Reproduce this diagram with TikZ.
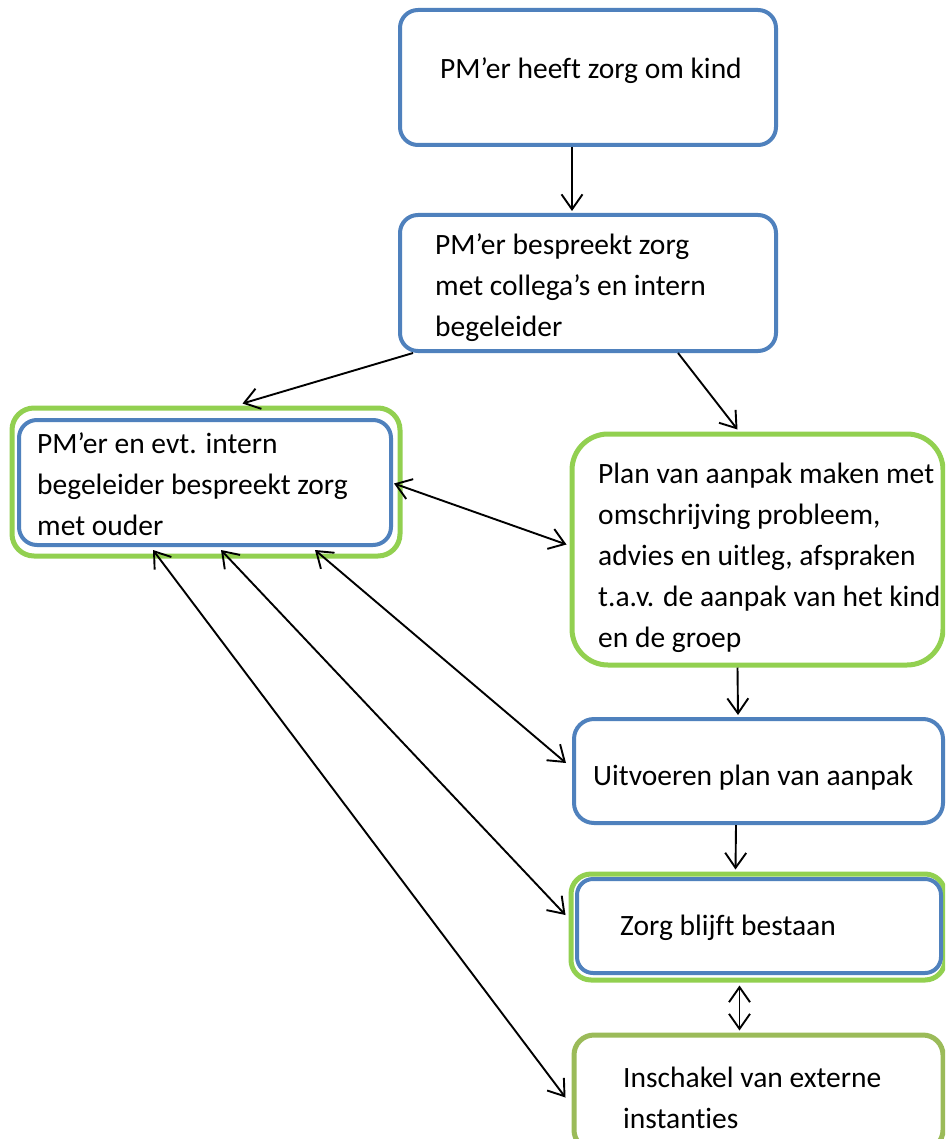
\documentclass[tikz,border=0pt]{standalone}
\usepackage{fontspec}
\setmainfont{Carlito}[Ligatures={NoCommon}]
\usetikzlibrary{arrows.meta}
\definecolor{boxblue}{HTML}{4F81BD}
\definecolor{boxgreen}{HTML}{92D050}
\definecolor{boxolive}{HTML}{9BBB59}
\tikzset{
  box/.style={draw, fill=white, inner sep=0pt, rounded corners=18pt},
  bluebox/.style={box, draw=boxblue, line width=4pt},
  greenbox/.style={box, draw=boxgreen, line width=5pt},
  olivebox/.style={box, draw=boxolive, line width=5pt},
  label text/.style={anchor=base west, inner sep=0pt, align=left,
    font=\fontsize{29.5}{40.8}\selectfont},
  conn/.style={draw=black, line width=1.9pt, -{Straight Barb[length=15pt,width=21pt]}},
  biconn/.style={draw=black, line width=1.9pt, {Straight Barb[length=15pt,width=21pt]}-{Straight Barb[length=15pt,width=21pt]}},
}
\begin{document}
\begin{tikzpicture}[x=1pt, y=-1pt]
\useasboundingbox (0,0) rectangle (945,1139);
\clip (0,0) rectangle (945,1139);
\fill[white] (0,0) rectangle (945,1139);
% boxes
\node[bluebox, minimum width=376pt, minimum height=135pt] (b1) at (588,77.5) {};
\node[bluebox, minimum width=376pt, minimum height=136pt] (b2) at (588,283) {};
\node[greenbox, minimum width=388pt, minimum height=148pt, rounded corners=22pt] (b3o) at (206,482) {};
\node[bluebox, minimum width=372pt, minimum height=125pt] (b3i) at (205,482.5) {};
\node[greenbox, minimum width=371pt, minimum height=231pt, rounded corners=36pt] (b4) at (757.5,549.5) {};
\node[bluebox, minimum width=369pt, minimum height=104pt, rounded corners=20pt] (b5) at (758.5,771) {};
\node[greenbox, minimum width=374pt, minimum height=106pt, rounded corners=20pt] (b6o) at (758,927) {};
\node[bluebox, minimum width=364pt, minimum height=94pt, rounded corners=16pt] (b6i) at (759,926) {};
\node[olivebox, minimum width=369pt, minimum height=115pt, rounded corners=20pt] (b7) at (758.5,1092.5) {};
% texts (base = baseline of the last line)
\node[label text] (t1) at (440,79) {PM’er heeft zorg om kind};
\node[label text] (t2) at (435,336) {PM’er bespreekt zorg\\met collega’s en intern\\begeleider};
\node[label text] (t3) at (37,535) {PM’er en evt. intern\\begeleider bespreekt zorg\\met ouder};
\node[label text] (t4) at (598,647) {Plan van aanpak maken met\\omschrijving probleem,\\advies en uitleg, afspraken\\t.a.v. de aanpak van het kind\\en de groep};
\node[label text] (t5) at (593,785) {Uitvoeren plan van aanpak};
\node[label text] (t6) at (620,935) {Zorg blijft bestaan};
\node[label text] (t7) at (623,1128) {Inschakel van externe\\instanties};
% connectors
\draw[conn] ([xshift=-16pt]b1.south) -- ([xshift=-16pt, yshift=2pt]b2.north);
\draw[conn] ([xshift=15pt]b2.south west) -- ([xshift=233pt, yshift=2pt]b3o.north west);
\draw[conn] ([xshift=280pt]b2.south west) -- ([xshift=168pt, yshift=2pt]b4.north west);
\draw[biconn] ([xshift=1pt, yshift=-1pt]b3i.east) -- ([xshift=-3pt, yshift=5pt]b4.west);
\draw[biconn] ([xshift=298pt, yshift=-3pt]b3i.south west) -- ([xshift=-6pt, yshift=8pt]b5.west);
\draw[biconn] ([xshift=204pt, yshift=-3pt]b3i.south west) -- ([xshift=-3pt, yshift=12pt]b6o.west);
\draw[biconn] ([xshift=136pt, yshift=-3pt]b3i.south west) -- ([xshift=-6pt, yshift=-5pt]b7.west);
\draw[conn] ([xshift=168pt]b4.south west) -- ([xshift=166pt, yshift=2pt]b5.north west);
\draw[conn] ([xshift=164pt]b5.south west) -- ([xshift=167pt, yshift=2pt]b6o.north west);
\draw[biconn] ([xshift=171pt, yshift=-3pt]b6o.south west) -- ([xshift=168pt, yshift=2pt]b7.north west);
\end{tikzpicture}
\end{document}
